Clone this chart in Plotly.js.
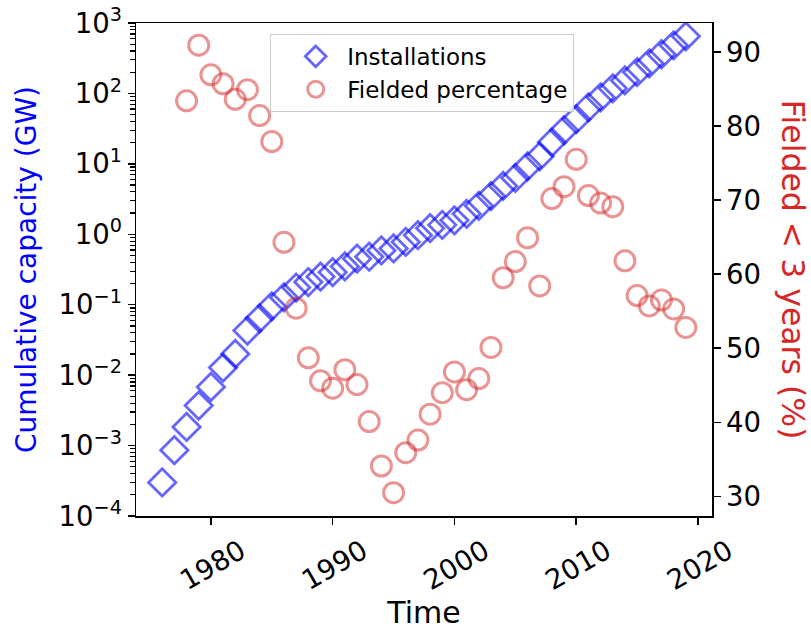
<!DOCTYPE html>
<html>
<head>
<meta charset="utf-8">
<script src="https://cdn.plot.ly/plotly-3.0.1.min.js"></script>
<style>html,body{margin:0;padding:0;background:#fff;}#chart{width:811px;height:630px;}</style>
</head>
<body>
<div id="chart"></div>
<script>
// Cumulative installed capacity (GW), one value per year
const capYears = [1976,1977,1978,1979,1980,1981,1982,1983,1984,1985,
  1986,1987,1988,1989,1990,1991,1992,1993,1994,1995,
  1996,1997,1998,1999,2000,2001,2002,2003,2004,2005,
  2006,2007,2008,2009,2010,2011,2012,2013,2014,2015,
  2016,2017,2018,2019];
const capacity = [3.0e-4,8.6e-4,1.84e-3,3.7e-3,6.8e-3,1.28e-2,2.0e-2,4.3e-2,6.4e-2,9.5e-2,
  0.127,0.175,0.21,0.25,0.29,0.35,0.45,0.48,0.59,0.63,
  0.78,0.97,1.22,1.36,1.58,1.95,2.54,3.49,4.85,6.3,
  9.2,12.8,20.2,30.0,43.0,63.6,88.1,118,153,200,
  268,360,482,647];

// Fielded < 3 years (%)
const pctYears = [1978,1979,1980,1981,1982,1983,1984,1985,
  1986,1987,1988,1989,1990,1991,1992,1993,1994,1995,
  1996,1997,1998,1999,2000,2001,2002,2003,2004,2005,
  2006,2007,2008,2009,2010,2011,2012,2013,2014,2015,
  2016,2017,2018,2019];
const fieldedPct = [83.4,90.9,86.9,85.7,83.6,84.9,81.4,77.9,
  64.3,55.4,48.7,45.6,44.6,47.1,45.1,40.1,34.1,30.5,
  35.9,37.6,41.1,44.0,46.8,44.4,45.9,50.1,59.5,61.7,
  64.9,58.4,70.2,71.8,75.5,70.6,69.6,69.1,61.8,57.1,
  55.7,56.5,55.3,52.8];

const xTicks = [1980,1990,2000,2010,2020];
const yLogTicks = [1e-4,1e-3,1e-2,1e-1,1e0,1e1,1e2,1e3];
const yLogTickText = ['10<sup>−4</sup>','10<sup>−3</sup>','10<sup>−2</sup>','10<sup>−1</sup>',
  '10<sup>0</sup>','10<sup>1</sup>','10<sup>2</sup>','10<sup>3</sup>'];
const y2Ticks = [30,40,50,60,70,80,90];

// minor tick positions of the log axis (2..9 in every decade)
const yMinorTicks = [];
for (let e = -4; e < 3; e++) {
  for (let m = 2; m <= 9; m++) yMinorTicks.push(m * Math.pow(10, e));
}

const FONT = 'DejaVu Sans, sans-serif';

const traces = [
  {
    x: capYears, y: capacity, name: 'Installations',
    type: 'scatter', mode: 'markers', yaxis: 'y',
    marker: {symbol: 'diamond-open', size: 21, color: 'rgba(0,0,255,0.6)',
             line: {width: 2.8, color: 'rgba(0,0,255,0.6)'}}
  },
  {
    x: pctYears, y: fieldedPct, name: 'Fielded percentage',
    type: 'scatter', mode: 'markers', yaxis: 'y2',
    marker: {symbol: 'circle-open', size: 20, color: 'rgba(214,39,40,0.5)',
             line: {width: 3, color: 'rgba(214,39,40,0.5)'}}
  }
];

const layout = {
  width: 811, height: 630,
  margin: {l: 136, r: 98.7, t: 22.7, b: 114.3},
  paper_bgcolor: '#fff', plot_bgcolor: '#fff',
  font: {family: FONT, size: 27.5, color: '#000'},
  showlegend: true,
  legend: {
    x: 0.233, y: 0.978, xanchor: 'left', yanchor: 'top',
    bgcolor: 'rgba(255,255,255,0.8)', bordercolor: '#cccccc', borderwidth: 1,
    itemwidth: 53, indentation: 13, itemsizing: 'trace',
    font: {family: FONT, size: 23, color: '#000'}
  },
  xaxis: {
    range: [1973.85, 2021.15], tickmode: 'array', tickvals: xTicks,
    tickangle: -30, ticks: 'outside', ticklen: 7, tickwidth: 1.5, tickcolor: '#000',
    showline: true, mirror: true, linecolor: '#000', linewidth: 1.5,
    showgrid: false, zeroline: false, ticklabelshift: 30,
    tickfont: {family: FONT, size: 27.5, color: '#000'},
    title: {text: 'Time', font: {family: FONT, size: 30, color: '#000'}, standoff: 4}
  },
  yaxis: {
    type: 'log', range: [-4, 3], tickmode: 'array', tickvals: yLogTicks, ticktext: yLogTickText,
    ticks: 'outside', ticklen: 7, tickwidth: 1.5, tickcolor: '#000',
    minor: {tickmode: 'array', tickvals: yMinorTicks, ticks: 'outside', ticklen: 4.5, tickwidth: 1.2, tickcolor: '#000', showgrid: false},
    showline: true, linecolor: '#000', linewidth: 1.5,
    showgrid: false, zeroline: false,
    tickfont: {family: FONT, size: 27.5, color: '#000'}
  },
  yaxis2: {
    overlaying: 'y', side: 'right', range: [27.35, 93.9],
    tickmode: 'array', tickvals: y2Ticks,
    ticks: 'outside', ticklen: 7, tickwidth: 1.5, tickcolor: '#000',
    showline: true, linecolor: '#000', linewidth: 1.5,
    showgrid: false, zeroline: false,
    tickfont: {family: FONT, size: 27.5, color: '#000'}
  },
  annotations: [
    {text: 'Cumulative capacity (GW)', xref: 'paper', yref: 'paper',
     x: -0.19, y: 0.5, xanchor: 'center', yanchor: 'middle', textangle: -90, showarrow: false,
     font: {family: FONT, size: 28, color: '#0000ff'}},
    {text: 'Fielded < 3 years (%)', xref: 'paper', yref: 'paper',
     x: 1.142, y: 0.5, xanchor: 'center', yanchor: 'middle', textangle: 90, showarrow: false,
     font: {family: FONT, size: 31.5, color: '#d62728'}}
  ]
};

Plotly.newPlot('chart', traces, layout, {displayModeBar: false, staticPlot: true});
</script>
</body>
</html>
